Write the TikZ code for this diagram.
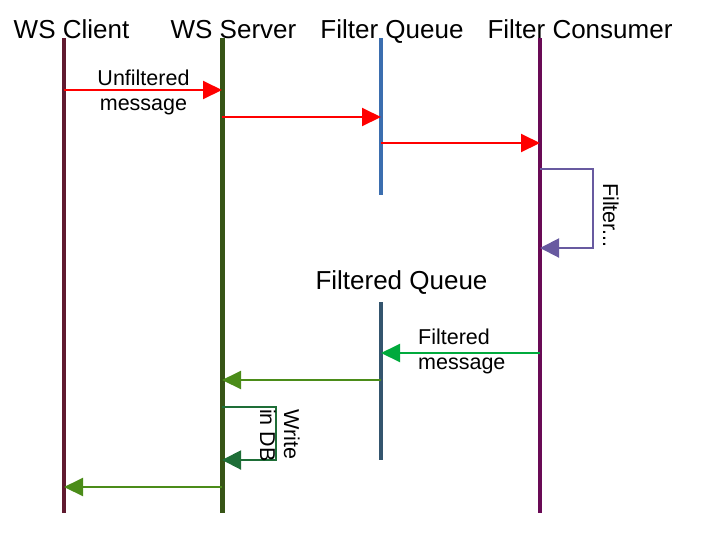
\documentclass[tikz,border=0pt]{standalone}
\usepackage{fontspec}
\setmainfont{Liberation Sans}
\usetikzlibrary{arrows.meta}
\definecolor{cclient}{RGB}{96,26,48}
\definecolor{cserver}{RGB}{55,85,22}
\definecolor{cfq}{RGB}{59,110,175}
\definecolor{ccons}{RGB}{105,10,85}
\definecolor{cfdq}{RGB}{52,85,110}
\definecolor{cred}{RGB}{255,0,0}
\definecolor{cpurple}{RGB}{104,90,160}
\definecolor{cgreen}{RGB}{0,170,60}
\definecolor{colive}{RGB}{75,140,25}
\definecolor{cdkgreen}{RGB}{30,110,55}
\tikzset{
  title/.style={anchor=base,inner sep=0pt,font=\fontsize{26}{30}\selectfont},
  lbl/.style={inner sep=0pt,font=\fontsize{21.5}{24.5}\selectfont},
  life/.style={line width=4pt},
  msg/.style={line width=2pt,-{Triangle[length=19pt,width=18pt]}},
  loopmsg/.style={line width=2pt,-{Triangle[length=19pt,width=19pt]}}
}
\begin{document}
\begin{tikzpicture}[x=1pt,y=-1pt]
\useasboundingbox (0,0) rectangle (711,547);
% titles
\node[title] (tc) at (71.5,38) {WS Client};
\node[title] (ts) at (233.5,38) {WS Server};
\node[title] (tq) at (392,38) {Filter Queue};
\node[title] (tf) at (580,38) {Filter Consumer};
\node[title] (tfq) at (401.5,289) {Filtered Queue};
% lifelines
\coordinate (c0) at (64,38);  \coordinate (c1) at (64,513);
\coordinate (s0) at (222,38); \coordinate (s1) at (222,513);
\coordinate (q0) at (381,38); \coordinate (q1) at (381,195);
\coordinate (f0) at (540,38); \coordinate (f1) at (540,513);
\coordinate (g0) at (381,302); \coordinate (g1) at (381,460);
\draw[life,cclient] (c0) -- (c1);
\draw[life,cserver,line width=5pt] (s0) -- (s1);
\draw[life,cfq] (q0) -- (q1);
\draw[life,ccons] (f0) -- (f1);
\draw[life,cfdq] (g0) -- (g1);
% message points
\coordinate (m1a) at (64,90);   \coordinate (m1b) at (222,90);
\coordinate (m2a) at (222,117); \coordinate (m2b) at (381,117);
\coordinate (m3a) at (381,143); \coordinate (m3b) at (540,143);
\coordinate (l1a) at (540,169); \coordinate (l1b) at (540,248);
\coordinate (m4a) at (540,353); \coordinate (m4b) at (381,353);
\coordinate (m5a) at (381,380); \coordinate (m5b) at (222,380);
\coordinate (l2a) at (222,407); \coordinate (l2b) at (222,460);
\coordinate (m6a) at (222,487); \coordinate (m6b) at (64,487);
% messages
\draw[msg,cred] (m1a) -- (m1b);
\draw[msg,cred] (m2a) -- (m2b);
\draw[msg,cred] (m3a) -- (m3b);
\draw[loopmsg,cpurple] (l1a) -- ++(53,0) |- (l1b);
\draw[msg,cgreen] (m4a) -- (m4b);
\draw[msg,colive] (m5a) -- (m5b);
\draw[loopmsg,cdkgreen] (l2a) -- ++(54,0) |- (l2b);
\draw[msg,colive] (m6a) -- (m6b);
% labels
\node[lbl,align=center,anchor=base] (u1) at (143.5,110) {Unfiltered\\message};
\node[lbl,align=left,anchor=base west] (u2) at (418,369) {Filtered\\message};
\node[lbl,rotate=-90,anchor=base west] (u3) at (603,183) {Filter...};
\node[lbl,rotate=-90,anchor=base west] (u4) at (284,409) {Write};
\node[lbl,rotate=-90,anchor=base west] (u5) at (260,409) {in DB};
\end{tikzpicture}
\end{document}
